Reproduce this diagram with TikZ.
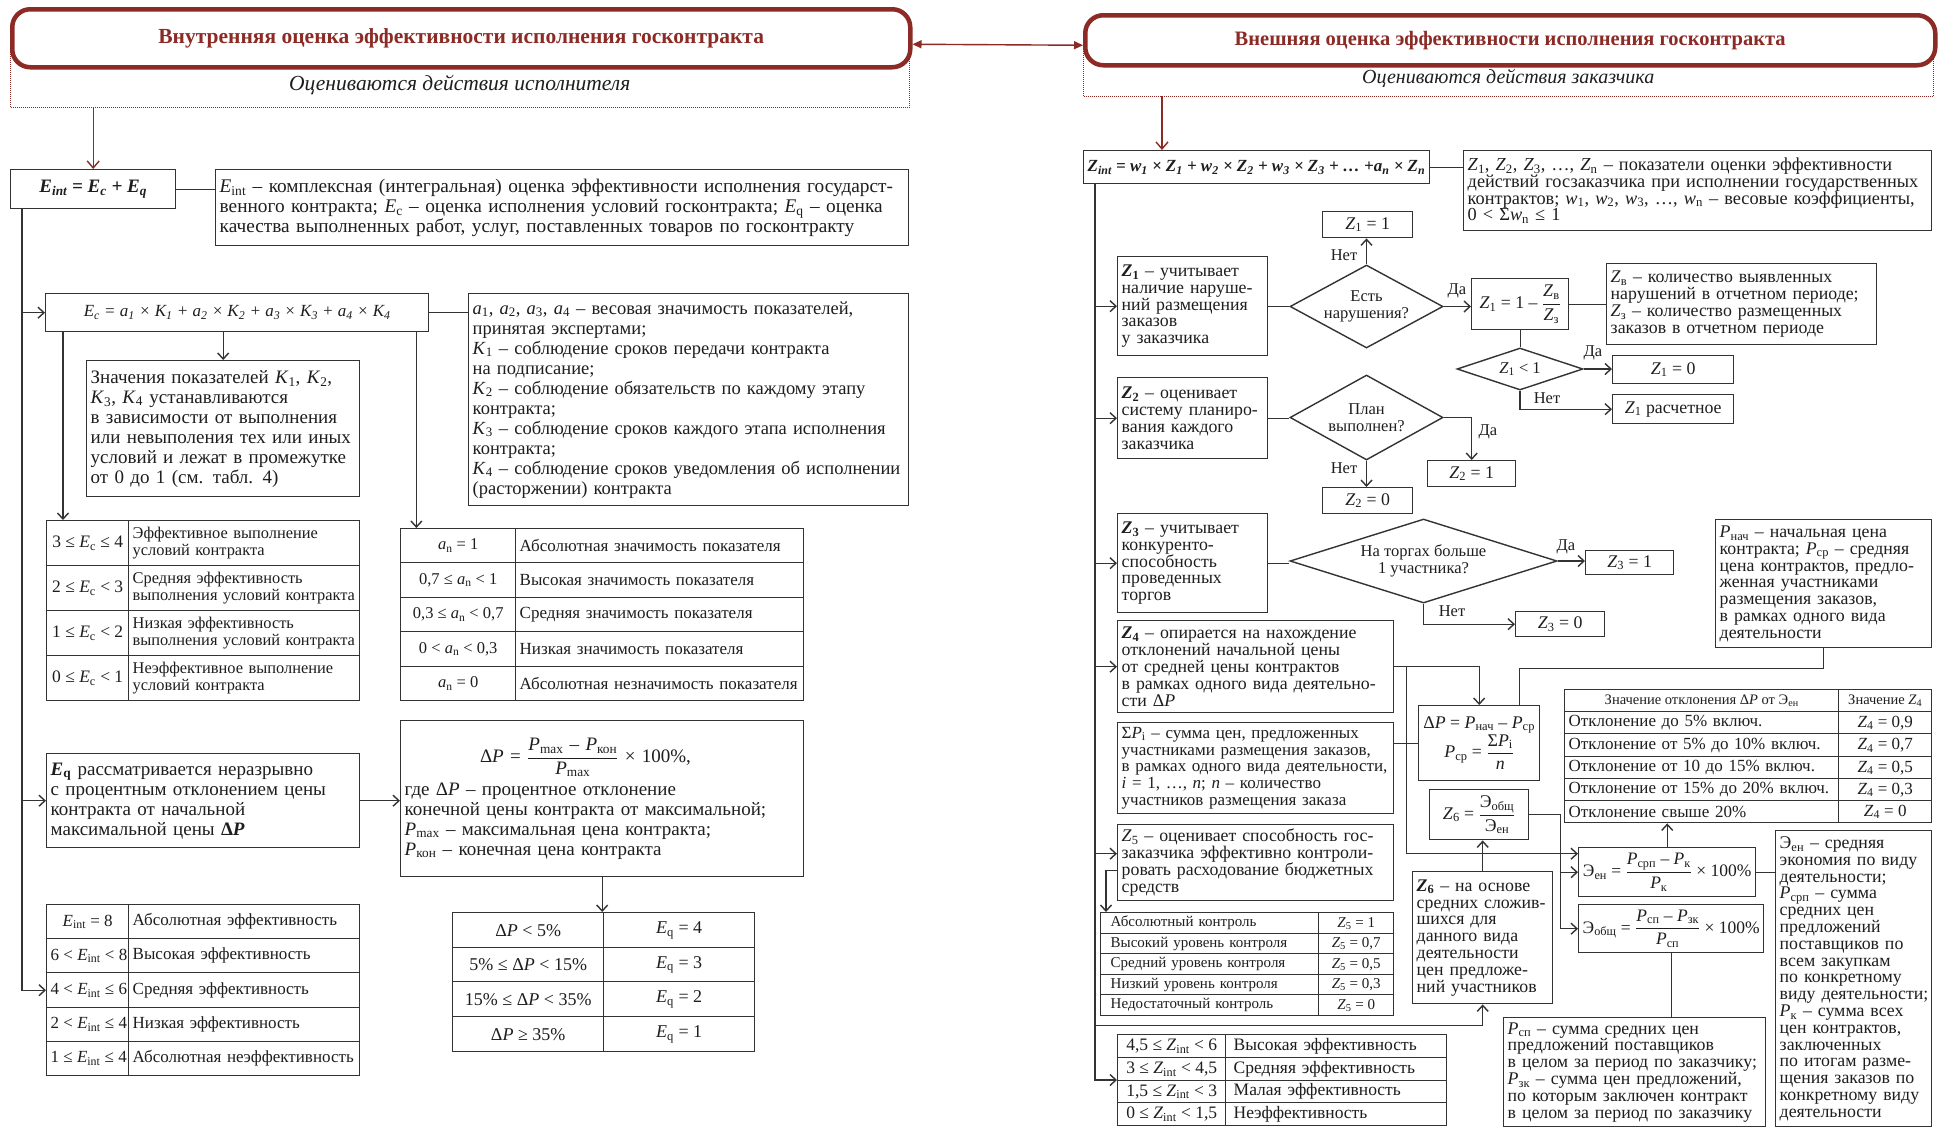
\documentclass[tikz,border=0pt]{standalone}
\usepackage{fontspec}
\setmainfont{Liberation Serif}
\usetikzlibrary{arrows.meta,shapes.geometric}
\definecolor{dred}{HTML}{8C2B25}
\definecolor{ink}{HTML}{1E1E1E}
\definecolor{lnc}{HTML}{333333}
\newcommand{\V}[2]{\textit{#1}\textsubscript{#2}}
\newcommand{\VB}[2]{\textbf{\textit{#1}\textsubscript{#2}}}
\newcommand{\TL}[1]{\vbox{\let\\\cr\halign{##\hfil\cr#1\crcr}}}
\newcommand{\fz}[2]{\fontsize{#1}{#2}\selectfont}
\newcommand{\bx}[7][]{%
  \pgfmathsetmacro{\myBW}{#5-#3}%
  \pgfmathsetmacro{\myBH}{#6-#4}%
  \pgfmathsetmacro{\myTW}{#5-#3-8}%
  \node[box,anchor=north west,minimum width=\myBW pt,minimum height=\myBH pt,text width=\myTW pt,#1] (#2) at (#3,#4) {#7};}
\newcommand{\bxc}[7][]{%
  \pgfmathsetmacro{\myBW}{#5-#3}%
  \pgfmathsetmacro{\myBH}{#6-#4}%
  \node[box,anchor=north west,minimum width=\myBW pt,minimum height=\myBH pt,align=center,#1] (#2) at (#3,#4) {#7};}
\begin{document}
\begin{tikzpicture}[x=1pt,y=-1pt,
  box/.style={draw=lnc,line width=1.4pt,fill=white,inner xsep=4pt,inner ysep=1pt,text=ink,align=left,font=\fz{17.8}{16.8}},
  subt/.style={draw=none,fill=none,text=ink,font=\itshape\fz{20}{22}},
  subline/.style={draw=dred,line width=1pt,densely dotted},
  title/.style={draw=dred,line width=4.5pt,rounded corners=18pt,fill=white,text=dred,font=\bfseries\fz{20.5}{22}},
  arr/.style={draw=lnc,line width=1.4pt,-{Straight Barb[length=6pt,width=11pt]}},
  conn/.style={draw=lnc,line width=1.4pt},
  redarr/.style={draw=dred,line width=1.4pt,-{Straight Barb[length=7pt,width=12pt]}},
  diam/.style={diamond,draw=lnc,line width=1.4pt,fill=white,inner sep=0pt,align=center,text=ink,font=\fz{16.5}{17}},
  lab/.style={text=ink,font=\fz{16.5}{17},inner sep=0pt}]
\useasboundingbox (0,0) rectangle (1941,1128);
\fill[white] (0,0) rectangle (1941,1128);

% ================= LEFT =================
\bxc[subt,font=\itshape\fz{21.5}{22}]{s1}{10}{62}{908}{106}{Оцениваются действия исполнителя}
\draw[subline] ([yshift=22pt]s1.north west) -- (s1.south west) -- (s1.south east) -- ([yshift=22pt]s1.north east);
\bxc[title,font=\bfseries\fz{21.5}{22}]{t1}{10}{7}{908}{65}{Внутренняя оценка эффективности исполнения госконтракта}

\bxc[font=\bfseries\itshape\fz{19}{20}]{eint}{10}{169}{175}{208}{\V{E}{int} = \V{E}{c} + \V{E}{q}}
\bx[font=\fz{19.3}{20}]{e1d}{215}{169}{908}{245}{\TL{\V{E}{int} – комплексная (интегральная) оценка эффективности исполнения государст-\\венного контракта; \V{E}{c} – оценка исполнения условий госконтракта; \V{E}{q} – оценка\\качества выполненных работ, услуг, поставленных товаров по госконтракту}}

\bxc[font=\itshape\fz{17}{20}]{ec}{45}{293}{428}{331}{\V{E}{c} = \V{a}{1} × \V{K}{1} + \V{a}{2} × \V{K}{2} + \V{a}{3} × \V{K}{3} + \V{a}{4} × \V{K}{4}}
\bx[font=\fz{18.5}{20}]{ad}{468}{293}{908}{505}{\TL{\V{a}{1}, \V{a}{2}, \V{a}{3}, \V{a}{4} – весовая значимость показателей,\\принятая экспертами;\\\V{K}{1} – соблюдение сроков передачи контракта\\на подписание;\\\V{K}{2} – соблюдение обязательств по каждому этапу\\контракта;\\\V{K}{3} – соблюдение сроков каждого этапа исполнения\\контракта;\\\V{K}{4} – соблюдение сроков уведомления об исполнении\\(расторжении) контракта}}
\bx[font=\fz{19}{20}]{zn}{86}{360}{359}{496}{\TL{Значения показателей \V{K}{1}, \V{K}{2},\\\V{K}{3}, \V{K}{4} устанавливаются\\в зависимости от выполнения\\или невыполения тех или иных\\условий и лежат в промежутке\\от 0 до 1 (см. табл. 4)}}

% E_c table
\bxc[font=\fz{17.5}{18}]{ec1a}{46}{520}{128}{565}{3 ≤ \V{E}{c} ≤ 4}
\bx[font=\fz{16.4}{17}]{ec1b}{128}{520}{359}{565}{\TL{Эффективное выполнение\\условий контракта}}
\bxc[font=\fz{17.5}{18}]{ec2a}{46}{565}{128}{610}{2 ≤ \V{E}{c} < 3}
\bx[font=\fz{16.4}{17}]{ec2b}{128}{565}{359}{610}{\TL{Средняя эффективность\\выполнения условий контракта}}
\bxc[font=\fz{17.5}{18}]{ec3a}{46}{610}{128}{655}{1 ≤ \V{E}{c} < 2}
\bx[font=\fz{16.4}{17}]{ec3b}{128}{610}{359}{655}{\TL{Низкая эффективность\\выполнения условий контракта}}
\bxc[font=\fz{17.5}{18}]{ec4a}{46}{655}{128}{700}{0 ≤ \V{E}{c} < 1}
\bx[font=\fz{16.4}{17}]{ec4b}{128}{655}{359}{700}{\TL{Неэффективное выполнение\\условий контракта}}

% a_n table
\bxc[font=\fz{16.5}{18}]{an1a}{400}{528}{515}{562}{\V{a}{n} = 1}
\bx[font=\fz{17}{17}]{an1b}{515}{528}{803}{562}{\TL{Абсолютная значимость показателя}}
\bxc[font=\fz{16.5}{18}]{an2a}{400}{562}{515}{597}{0,7 ≤ \V{a}{n} < 1}
\bx[font=\fz{17}{17}]{an2b}{515}{562}{803}{597}{\TL{Высокая значимость показателя}}
\bxc[font=\fz{16.5}{18}]{an3a}{400}{597}{515}{631}{0,3 ≤ \V{a}{n} < 0,7}
\bx[font=\fz{17}{17}]{an3b}{515}{597}{803}{631}{\TL{Средняя значимость показателя}}
\bxc[font=\fz{16.5}{18}]{an4a}{400}{631}{515}{666}{0 < \V{a}{n} < 0,3}
\bx[font=\fz{17}{17}]{an4b}{515}{631}{803}{666}{\TL{Низкая значимость показателя}}
\bxc[font=\fz{16.5}{18}]{an5a}{400}{666}{515}{700}{\V{a}{n} = 0}
\bx[font=\fz{17}{17}]{an5b}{515}{666}{803}{700}{\TL{Абсолютная незначимость показателя}}

\bx[font=\fz{19}{20}]{eq}{46}{753}{359}{847}{\TL{\VB{E}{q} рассматривается неразрывно\\с процентным отклонением цены\\контракта от начальной\\максимальной цены \textbf{Δ\textit{P}}}}
\bx[font=\fz{19}{20}]{dp}{400}{720}{803}{876}{\TL{\omit\hfil$\displaystyle\mbox{Δ\textit{P} = }\frac{\mbox{\V{P}{max} – \V{P}{кон}}}{\mbox{\V{P}{max}}}\mbox{ × 100\%,}$\hfil\\\noalign{\vskip5pt}где Δ\textit{P} – процентное отклонение\\конечной цены контракта от максимальной;\\\V{P}{max} – максимальная цена контракта;\\\V{P}{кон} – конечная цена контракта}}

% dP table
\bxc[font=\fz{18}{18}]{dp1a}{452}{912}{603}{947}{Δ\textit{P} < 5\%}
\bxc[font=\fz{18}{18}]{dp1b}{603}{912}{754}{947}{\V{E}{q} = 4}
\bxc[font=\fz{18}{18}]{dp2a}{452}{947}{603}{981}{5\% ≤ Δ\textit{P} < 15\%}
\bxc[font=\fz{18}{18}]{dp2b}{603}{947}{754}{981}{\V{E}{q} = 3}
\bxc[font=\fz{18}{18}]{dp3a}{452}{981}{603}{1016}{15\% ≤ Δ\textit{P} < 35\%}
\bxc[font=\fz{18}{18}]{dp3b}{603}{981}{754}{1016}{\V{E}{q} = 2}
\bxc[font=\fz{18}{18}]{dp4a}{452}{1016}{603}{1051}{Δ\textit{P} ≥ 35\%}
\bxc[font=\fz{18}{18}]{dp4b}{603}{1016}{754}{1051}{\V{E}{q} = 1}

% E_int table
\bxc[font=\fz{17}{18}]{ei1a}{46}{904}{128}{938}{\V{E}{int} = 8}
\bx[font=\fz{17}{18}]{ei1b}{128}{904}{359}{938}{\TL{Абсолютная эффективность}}
\bxc[font=\fz{17}{18}]{ei2a}{46}{938}{128}{972}{6 < \V{E}{int} < 8}
\bx[font=\fz{17}{18}]{ei2b}{128}{938}{359}{972}{\TL{Высокая эффективность}}
\bxc[font=\fz{17}{18}]{ei3a}{46}{972}{128}{1007}{4 < \V{E}{int} ≤ 6}
\bx[font=\fz{17}{18}]{ei3b}{128}{972}{359}{1007}{\TL{Средняя эффективность}}
\bxc[font=\fz{17}{18}]{ei4a}{46}{1007}{128}{1041}{2 < \V{E}{int} ≤ 4}
\bx[font=\fz{17}{18}]{ei4b}{128}{1007}{359}{1041}{\TL{Низкая эффективность}}
\bxc[font=\fz{17}{18}]{ei5a}{46}{1041}{128}{1075}{1 ≤ \V{E}{int} ≤ 4}
\bx[font=\fz{17}{18}]{ei5b}{128}{1041}{359}{1075}{\TL{Абсолютная неэффективность}}

% left connectors
\draw[redarr] (eint.north |- s1.south) -- (eint.north);
\draw[conn] (eint.east) -- (eint.east -| e1d.west);
\coordinate (trL) at ([xshift=12pt]eint.south west);
\draw[arr] (trL) |- (ec.west);
\draw[arr] (trL) |- (eq.west);
\draw[arr] (trL) |- (ei3a.west);
\draw[conn] (ec.east) -- (ec.east -| ad.west);
\draw[arr] (zn.north |- ec.south) -- (zn.north);
\coordinate (ecL) at ([xshift=18pt]ec.south west);
\draw[arr] (ecL) -- (ecL |- ec1a.north);
\coordinate (ecR) at ([xshift=-13pt]ec.south east);
\draw[arr] (ecR) -- (ecR |- an1a.north);
\draw[arr] (eq.east) -- (eq.east -| dp.west);
\draw[arr] (dp.south) -- (dp.south |- dp1a.north);

% ================= RIGHT =================
\bxc[subt]{s2}{1083}{61}{1932}{95}{Оцениваются действия заказчика}
\draw[subline] ([yshift=20pt]s2.north west) -- (s2.south west) -- (s2.south east) -- ([yshift=20pt]s2.north east);
\bxc[title]{t2}{1083}{13}{1933}{63}{Внешняя оценка эффективности исполнения госконтракта}
\draw[draw=dred,line width=1.4pt,{Triangle[length=9pt,width=8pt]}-{Triangle[length=9pt,width=8pt]}] ([yshift=-6pt]t1.east) -- ([yshift=-5pt]t2.west);

\bxc[font=\bfseries\itshape\fz{17}{18}]{zint}{1083}{150}{1426}{183}{\V{Z}{int} = \V{w}{1} × \V{Z}{1} + \V{w}{2} × \V{Z}{2} + \V{w}{3} × \V{Z}{3} + … +\V{a}{n} × \V{Z}{n}}
\bx[font=\fz{18.3}{16.8}]{zd}{1463}{150}{1931}{230}{\TL{\V{Z}{1}, \V{Z}{2}, \V{Z}{3}, …, \V{Z}{n} – показатели оценки эффективности\\действий госзаказчика при исполнении государственных\\контрактов; \V{w}{1}, \V{w}{2}, \V{w}{3}, …, \V{w}{n} – весовые коэффициенты,\\0 < Σ\V{w}{n} ≤ 1}}

\bx{z1}{1117}{256}{1267}{355}{\TL{\VB{Z}{1} – учитывает\\наличие наруше-\\ний размещения\\заказов\\у заказчика}}
\node[diam,minimum width=153pt,minimum height=83pt,shape aspect=1.84] (d1) at (1366.5,306.5) {Есть\\нарушения?};
\bxc{z1one}{1322}{211}{1412}{237}{\V{Z}{1} = 1}
\bxc{z1f}{1471}{278}{1568}{329}{\V{Z}{1} = 1 – $\displaystyle\frac{\mbox{\V{Z}{в}}}{\mbox{\V{Z}{з}}}$}
\bx{zvd}{1606}{263}{1876}{344}{\TL{\V{Z}{в} – количество выявленных\\нарушений в отчетном периоде;\\\V{Z}{з} – количество размещенных\\заказов в отчетном периоде}}
\node[diam,minimum width=126pt,minimum height=42pt,shape aspect=3] (d1b) at (1520,369) {\V{Z}{1} < 1};
\bxc{z1zero}{1612}{355}{1733}{383}{\V{Z}{1} = 0}
\bxc{z1calc}{1612}{394}{1733}{423}{\V{Z}{1} расчетное}

\bx{z2}{1117}{377}{1267}{458}{\TL{\VB{Z}{2} – оценивает\\систему планиро-\\вания каждого\\заказчика}}
\node[diam,minimum width=153pt,minimum height=85pt,shape aspect=1.8] (d2) at (1366.5,417.5) {План\\выполнен?};
\bxc{z2one}{1427}{460}{1515}{486}{\V{Z}{2} = 1}
\bxc{z2zero}{1322}{487}{1412}{513}{\V{Z}{2} = 0}

\bx{z3}{1117}{513}{1267}{612}{\TL{\VB{Z}{3} – учитывает\\конкуренто-\\способность\\проведенных\\торгов}}
\node[diam,minimum width=267pt,minimum height=84pt,shape aspect=3.18] (d3) at (1423.5,561) {На торгах больше\\1 участника?};
\bxc{z3one}{1585}{550}{1673}{574}{\V{Z}{3} = 1}
\bxc{z3zero}{1515}{611}{1604}{636}{\V{Z}{3} = 0}

\bx{pd}{1715}{519}{1931}{647}{\TL{\V{P}{нач} – начальная цена\\контракта; \V{P}{ср} – средняя\\цена контрактов, предло-\\женная участниками\\размещения заказов,\\в рамках одного вида\\деятельности}}
\bx{z4}{1117}{620}{1393}{712}{\TL{\VB{Z}{4} – опирается на нахождение\\отклонений начальной цены\\от средней цены контрактов\\в рамках одного вида деятельно-\\сти Δ\textit{P}}}
\bxc{dpR}{1418}{705}{1539}{780}{Δ\textit{P} = \V{P}{нач} – \V{P}{ср}\\\V{P}{ср} = $\displaystyle\frac{\mbox{Σ\V{P}{i}}}{\mbox{\textit{n}}}$}
\bx[font=\fz{17}{16.8}]{zsum}{1117}{722}{1393}{813}{\TL{Σ\V{P}{i} – сумма цен, предложенных\\участниками размещения заказов,\\в рамках одного вида деятельности,\\\textit{i} = 1, …, \textit{n}; \textit{n} – количество\\участников размещения заказа}}
\bx{z5}{1117}{824}{1393}{900}{\TL{\V{Z}{5} – оценивает способность гос-\\заказчика эффективно контроли-\\ровать расходование бюджетных\\средств}}
\bxc{z6f}{1429}{789}{1528}{839}{\V{Z}{6} = $\displaystyle\frac{\mbox{Э\textsubscript{общ}}}{\mbox{Э\textsubscript{ен}}}$}
\bx{z6d}{1412}{871}{1552}{1003}{\TL{\VB{Z}{6} – на основе\\средних сложив-\\шихся для\\данного вида\\деятельности\\цен предложе-\\ний участников}}
\bxc[font=\fz{17.5}{16.8}]{eEn}{1578}{847}{1755}{896}{Э\textsubscript{ен} = $\displaystyle\frac{\mbox{\V{P}{срп} – \V{P}{к}}}{\mbox{\V{P}{к}}}$ × 100\%}
\bxc[font=\fz{17.5}{16.8}]{eOb}{1578}{904}{1755}{952}{Э\textsubscript{общ} = $\displaystyle\frac{\mbox{\V{P}{сп} – \V{P}{зк}}}{\mbox{\V{P}{сп}}}$ × 100\%}
\bx{ed}{1775}{830}{1931}{1126}{\TL{Э\textsubscript{ен} – средняя\\экономия по виду\\деятельности;\\\V{P}{срп} – сумма\\средних цен\\предложений\\поставщиков по\\всем закупкам\\по конкретному\\виду деятельности;\\\V{P}{к} – сумма всех\\цен контрактов,\\заключенных\\по итогам разме-\\щения заказов по\\конкретному виду\\деятельности}}
\bx{pspd}{1503}{1017}{1765}{1126}{\TL{\V{P}{сп} – сумма средних цен\\предложений поставщиков\\в целом за период по заказчику;\\\V{P}{зк} – сумма цен предложений,\\по которым заключен контракт\\в целом за период по заказчику}}

% Z4 table
\bxc[font=\fz{14.5}{15}]{z4t1a}{1564}{689}{1838}{711}{Значение отклонения Δ\textit{P} от Э\textsubscript{ен}}
\bxc[font=\fz{14.5}{15}]{z4t1b}{1838}{689}{1931}{711}{Значение \V{Z}{4}}
\bx[font=\fz{17}{17}]{z4t2a}{1564}{711}{1838}{733}{\TL{Отклонение до 5\% включ.}}
\bxc[font=\fz{17}{17}]{z4t2b}{1838}{711}{1931}{733}{\V{Z}{4} = 0,9}
\bx[font=\fz{17}{17}]{z4t3a}{1564}{733}{1838}{756}{\TL{Отклонение от 5\% до 10\% включ.}}
\bxc[font=\fz{17}{17}]{z4t3b}{1838}{733}{1931}{756}{\V{Z}{4} = 0,7}
\bx[font=\fz{17}{17}]{z4t4a}{1564}{756}{1838}{778}{\TL{Отклонение от 10 до 15\% включ.}}
\bxc[font=\fz{17}{17}]{z4t4b}{1838}{756}{1931}{778}{\V{Z}{4} = 0,5}
\bx[font=\fz{17}{17}]{z4t5a}{1564}{778}{1838}{800}{\TL{Отклонение от 15\% до 20\% включ.}}
\bxc[font=\fz{17}{17}]{z4t5b}{1838}{778}{1931}{800}{\V{Z}{4} = 0,3}
\bx[font=\fz{17}{17}]{z4t6a}{1564}{800}{1838}{822}{\TL{Отклонение свыше 20\%}}
\bxc[font=\fz{17}{17}]{z4t6b}{1838}{800}{1931}{822}{\V{Z}{4} = 0}

% Z5 table
\bx[font=\fz{15}{15}]{z5t1a}{1100}{912}{1318}{933}{\TL{\hspace{6pt}Абсолютный контроль}}
\bxc[font=\fz{15}{15}]{z5t1b}{1318}{912}{1393}{933}{\V{Z}{5} = 1}
\bx[font=\fz{15}{15}]{z5t2a}{1100}{933}{1318}{953}{\TL{\hspace{6pt}Высокий уровень контроля}}
\bxc[font=\fz{15}{15}]{z5t2b}{1318}{933}{1393}{953}{\V{Z}{5} = 0,7}
\bx[font=\fz{15}{15}]{z5t3a}{1100}{953}{1318}{974}{\TL{\hspace{6pt}Средний уровень контроля}}
\bxc[font=\fz{15}{15}]{z5t3b}{1318}{953}{1393}{974}{\V{Z}{5} = 0,5}
\bx[font=\fz{15}{15}]{z5t4a}{1100}{974}{1318}{994}{\TL{\hspace{6pt}Низкий уровень контроля}}
\bxc[font=\fz{15}{15}]{z5t4b}{1318}{974}{1393}{994}{\V{Z}{5} = 0,3}
\bx[font=\fz{15}{15}]{z5t5a}{1100}{994}{1318}{1015}{\TL{\hspace{6pt}Недостаточный контроль}}
\bxc[font=\fz{15}{15}]{z5t5b}{1318}{994}{1393}{1015}{\V{Z}{5} = 0}

% Z_int table
\bxc[font=\fz{17.5}{18}]{zi1a}{1117}{1034}{1225}{1057}{4,5 ≤ \V{Z}{int} < 6}
\bx[font=\fz{17.5}{18}]{zi1b}{1225}{1034}{1446}{1057}{\TL{\hspace{4pt}Высокая эффективность}}
\bxc[font=\fz{17.5}{18}]{zi2a}{1117}{1057}{1225}{1080}{3 ≤ \V{Z}{int} < 4,5}
\bx[font=\fz{17.5}{18}]{zi2b}{1225}{1057}{1446}{1080}{\TL{\hspace{4pt}Средняя эффективность}}
\bxc[font=\fz{17.5}{18}]{zi3a}{1117}{1080}{1225}{1102}{1,5 ≤ \V{Z}{int} < 3}
\bx[font=\fz{17.5}{18}]{zi3b}{1225}{1080}{1446}{1102}{\TL{\hspace{4pt}Малая эффективность}}
\bxc[font=\fz{17.5}{18}]{zi4a}{1117}{1102}{1225}{1125}{0 ≤ \V{Z}{int} < 1,5}
\bx[font=\fz{17.5}{18}]{zi4b}{1225}{1102}{1446}{1125}{\TL{\hspace{4pt}Неэффективность}}

% labels
\node[lab] (l1n) at (1344,255) {Нет};
\node[lab] (l1d) at (1457,291) {Да};
\node[lab] (l1bd) at (1593,353) {Да};
\node[lab] (l1bn) at (1547,398) {Нет};
\node[lab] (l2d) at (1488,432) {Да};
\node[lab] (l2n) at (1344,468) {Нет};
\node[lab] (l3d) at (1566,547) {Да};
\node[lab] (l3n) at (1452,611) {Нет};

% right connectors
\coordinate (ra) at ([xshift=79pt]zint.north west);
\draw[redarr] (ra |- s2.south) -- (ra);
\draw[conn] (zint.east) -- (zint.east -| zd.west);
\coordinate (trR) at ([xshift=12pt]zint.south west);
\draw[arr] (trR) |- (z1.west);
\draw[arr] (trR) |- (z2.west);
\draw[arr] (trR) |- (z3.west);
\draw[arr] (trR) |- (z4.west);
\draw[arr] (trR) |- ([yshift=9pt]z5.west);
\draw[arr] (trR) |- (zi3a.north west);
\path (trR) ++(0,841) coordinate (j6);
\draw[arr] (j6) -| (z6d.south);
\draw[conn] (z1.east) -- (z1.east -| d1.west);
\draw[arr] (d1.north) -- (d1.north |- z1one.south);
\draw[arr] (d1.east) -- (d1.east -| z1f.west);
\draw[conn] (z1f.east) -- (z1f.east -| zvd.west);
\draw[conn] (z1f.south) -- (z1f.south |- d1b.north);
\draw[arr] (d1b.east) -- (d1b.east -| z1zero.west);
\draw[arr] (d1b.south) |- (z1calc.west);
\draw[conn] (z2.east) -- (z2.east -| d2.west);
\draw[arr] (d2.east) -| (z2one.north);
\draw[arr] (d2.south) -- (d2.south |- z2zero.north);
\draw[conn] (z3.east) -- (z3.east -| d3.west);
\draw[arr] (d3.east) -- (d3.east -| z3one.west);
\draw[arr] (d3.south) |- (z3zero.west);
\draw[conn] (pd.south) -- ++(0,20) -| ([xshift=40pt]dpR.north);
\draw[arr] (z4.east) -| (dpR.north);
\coordinate (bus) at ([xshift=12pt]z4.east);
\draw[arr] (bus) |- ([yshift=18.5pt]eEn.west);
\draw[conn] (dpR.west) -- (dpR.west -| zsum.east);
\draw[arr] (z6d.north) -- (z6d.north |- z6f.south);
\coordinate (z6x) at ([xshift=31pt]z6f.east);
\draw[arr] (z6f.east) -- (z6x) |- (eOb.west);
\draw[arr] (z6x) |- (eEn.west);
\draw[arr] (eEn.north) -- (eEn.north |- z4t6a.south);
\draw[conn] (eEn.east) -- (eEn.east -| ed.west);
\draw[conn] (eOb.south) -- (eOb.south |- pspd.north);
\coordinate (z5c) at ([xshift=6pt]z5t1a.north west);
\draw[arr] ([yshift=-8pt]z5.west) -| (z5c);
\end{tikzpicture}
\end{document}
